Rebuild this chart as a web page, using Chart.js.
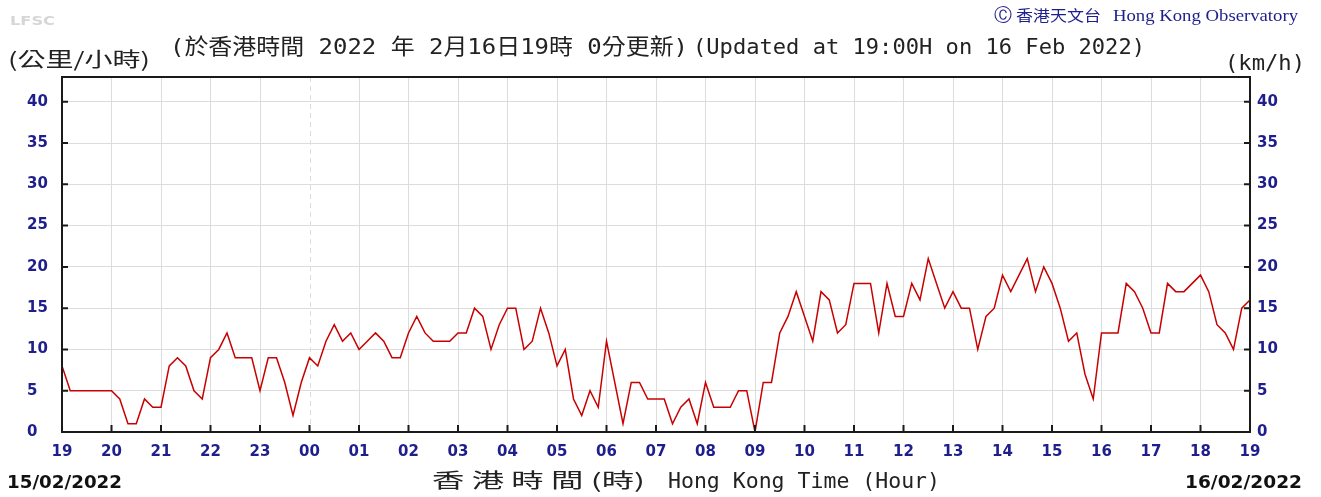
<!doctype html>
<html lang="en">
<head>
<meta charset="utf-8">
<title>Wind speed - Hong Kong</title>
<style>
  * { margin: 0; padding: 0; }
  body { background: #fff; }
  .chartBox { position: relative; width: 1321px; height: 497px; }
</style>
</head>
<body>
<div class="chartBox"><canvas id="windChart" width="1321" height="497"></canvas></div>

<script src="https://cdn.jsdelivr.net/npm/chart.js/dist/chart.umd.min.js"></script>
<script>
// hour labels along the bottom, one every 6 samples
const hourLabels = ['19','20','21','22','23','00','01','02','03','04','05','06','07',
                    '08','09','10','11','12','13','14','15','16','17','18','19'];
const speedTicks = [0, 5, 10, 15, 20, 25, 30, 35, 40];

// 10-minute wind speed (km/h), 19:00 15/02 -> 19:00 16/02
const speed = [
  8, 5, 5, 5, 5, 5, 5, 4, 1, 1, 4, 3,         // 19:00
  3, 8, 9, 8, 5, 4, 9, 10, 12, 9, 9, 9,       // 21:00
  5, 9, 9, 6, 2, 6, 9, 8, 11, 13, 11, 12,     // 23:00
  10, 11, 12, 11, 9, 9, 12, 14, 12, 11, 11, 11, // 01:00
  12, 12, 15, 14, 10, 13, 15, 15, 10, 11, 15, 12, // 03:00
  8, 10, 4, 2, 5, 3, 11, 6, 1, 6, 6, 4,       // 05:00
  4, 4, 1, 3, 4, 1, 6, 3, 3, 3, 5, 5,         // 07:00
  0, 6, 6, 12, 14, 17, 14, 11, 17, 16, 12, 13, // 09:00
  18, 18, 18, 12, 18, 14, 14, 18, 16, 21, 18, 15, // 11:00
  17, 15, 15, 10, 14, 15, 19, 17, 19, 21, 17, 20, // 13:00
  18, 15, 11, 12, 7, 4, 12, 12, 12, 18, 17, 15, // 15:00
  12, 12, 18, 17, 17, 18, 19, 17, 13, 12, 10, 15, // 17:00
  16                                           // 19:00
];

const navy = '#1e1e8c';
const gridColor = 'rgb(220,220,220)';
const tickFont = { family: 'DejaVu Sans', size: 15, weight: 'bold' };
const midnight = hourLabels.indexOf('00') * 6;

const points = speed.map((v, i) => ({ x: i, y: v }));

// draw text squeezed/stretched to a given width
function fitText(ctx, text, font, color, x, y, width) {
  ctx.save();
  ctx.font = font;
  ctx.fillStyle = color;
  ctx.textBaseline = 'alphabetic';
  ctx.textAlign = 'left';
  const w = ctx.measureText(text).width;
  ctx.translate(x, y);
  ctx.scale(width / w, 1);
  ctx.fillText(text, 0, 0);
  ctx.restore();
}

const bgColor = {
  id: 'bgColor',
  beforeDraw(chart) {
    const { ctx, width, height } = chart;
    ctx.save();
    ctx.fillStyle = 'white';
    ctx.fillRect(0, 0, width, height);
    ctx.restore();
  }
};

const frame = {
  id: 'frame',
  beforeDatasetsDraw(chart) {
    // dashed day boundary
    const { ctx, chartArea: a, scales: { x } } = chart;
    const px = Math.round(x.getPixelForValue(midnight)) + 0.5;
    ctx.save();
    ctx.strokeStyle = gridColor;
    ctx.lineWidth = 1;
    ctx.setLineDash([5, 4]);
    ctx.beginPath();
    ctx.moveTo(px, a.top);
    ctx.lineTo(px, a.bottom);
    ctx.stroke();
    ctx.restore();
  },
  afterDatasetsDraw(chart) {
    const { ctx, chartArea: a, scales: { x, y } } = chart;
    ctx.save();
    ctx.strokeStyle = '#1a1a1a';
    ctx.lineWidth = 2;
    ctx.strokeRect(a.left, a.top, a.right - a.left, a.bottom - a.top);
    ctx.beginPath();
    // inner tick marks
    hourLabels.forEach((_, i) => {
      const px = x.getPixelForValue(i * 6);
      ctx.moveTo(px, a.bottom);
      ctx.lineTo(px, a.bottom - 7);
    });
    speedTicks.forEach(v => {
      const py = y.getPixelForValue(v);
      ctx.moveTo(a.left, py);
      ctx.lineTo(a.left + 6, py);
      ctx.moveTo(a.right, py);
      ctx.lineTo(a.right - 6, py);
    });
    ctx.stroke();
    ctx.restore();
  },
  afterDraw(chart) {
    const ctx = chart.ctx;
    const mono = '22px "DejaVu Sans Mono", "Noto Sans CJK TC"';
    const cjk = '20px "Noto Sans CJK TC"';
    fitText(ctx, 'LFSC', 'bold 13px "DejaVu Sans"', '#d6d6d6', 10, 25, 45);
    fitText(ctx, '(公里/小時)', cjk, '#222', 8, 67, 142);
    fitText(ctx, '(於香港時間 2022 年 2月16日19時 0分更新)', mono, '#222', 170, 54, 518);
    fitText(ctx, '(Updated at 19:00H on 16 Feb 2022)', mono, '#222', 693, 54, 452);
    fitText(ctx, '(km/h)', mono, '#222', 1225, 70, 80);
    fitText(ctx, 'Ⓒ', '18px "DejaVu Sans"', navy, 994, 21, 18);
    fitText(ctx, '香港天文台', '15px "Noto Sans CJK TC"', navy, 1016, 21, 85);
    fitText(ctx, 'Hong Kong Observatory', '16px "Liberation Serif"', navy, 1113, 21, 185);
    fitText(ctx, '15/02/2022', 'bold 18px "DejaVu Sans"', '#111', 7, 488, 115);
    fitText(ctx, '16/02/2022', 'bold 18px "DejaVu Sans"', '#111', 1185, 488, 117);
    fitText(ctx, '香 港 時 間 (時)', cjk, '#222', 432, 488, 213);
    fitText(ctx, 'Hong Kong Time (Hour)', mono, '#222', 668, 488, 272);
  }
};

const config = {
  type: 'line',
  data: {
    datasets: [{
      data: points,
      borderColor: '#c80000',
      borderWidth: 1.5,
      pointRadius: 0,
      tension: 0,
      fill: false
    }]
  },
  options: {
    responsive: false,
    animation: false,
    devicePixelRatio: 1,
    layout: { padding: { top: 77, left: 27, right: 0, bottom: 0 } },
    plugins: { legend: { display: false }, tooltip: { enabled: false } },
    scales: {
      x: {
        type: 'linear',
        min: 0,
        max: (hourLabels.length - 1) * 6,
        afterBuildTicks: s => { s.ticks = hourLabels.map((_, i) => ({ value: i * 6 })); },
        afterFit: s => { s.height = 65; },
        ticks: {
          autoSkip: false,
          maxRotation: 0,
          padding: 11,
          color: navy,
          font: tickFont,
          callback: v => hourLabels[v / 6]
        },
        grid: {
          color: c => (c.tick && c.tick.value === midnight) ? 'transparent' : gridColor,
          drawTicks: false
        },
        border: { display: false }
      },
      y: {
        position: 'left',
        min: 0,
        max: 43,
        afterBuildTicks: s => { s.ticks = speedTicks.map(v => ({ value: v })); },
        afterFit: s => { s.width = 35; },
        ticks: { crossAlign: 'far', color: navy, font: tickFont },
        grid: { color: gridColor, drawTicks: false },
        border: { display: false }
      },
      y2: {
        position: 'right',
        min: 0,
        max: 43,
        afterBuildTicks: s => { s.ticks = speedTicks.map(v => ({ value: v })); },
        afterFit: s => { s.width = 71; },
        ticks: { crossAlign: 'near', padding: 7, color: navy, font: tickFont },
        grid: { display: false, drawTicks: false },
        border: { display: false }
      }
    }
  },
  plugins: [bgColor, frame]
};

const windChart = new Chart(document.getElementById('windChart'), config);
</script>
</body>
</html>
